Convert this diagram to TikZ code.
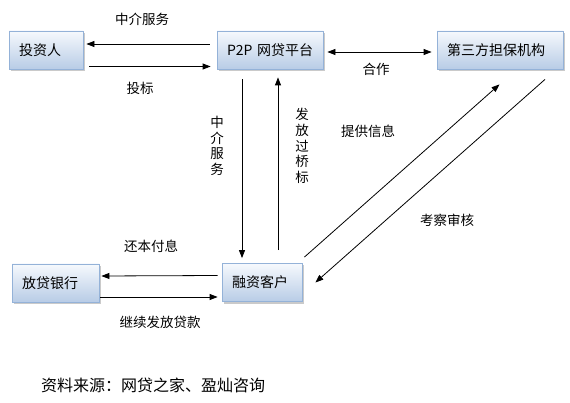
\documentclass[tikz,border=0pt]{standalone}
\usepackage{fontspec}
\setmainfont{Noto Sans CJK SC}
\usetikzlibrary{arrows.meta,shadows}
\definecolor{boxtop}{HTML}{F6F9FD}
\definecolor{boxbot}{HTML}{B8CCE6}
\definecolor{boxline}{HTML}{94B2D8}
\tikzset{
  x=1pt,y=-1pt,
  box/.style={rectangle, draw=boxline, line width=0.8pt, top color=boxtop, bottom color=boxbot,
    drop shadow={shadow xshift=2pt, shadow yshift=-2pt, opacity=0.35, fill=black!60},
    minimum height=38pt, inner xsep=10pt, inner ysep=0pt, align=left,
    font=\fontsize{14}{16}\selectfont},
  arr/.style={line width=0.8pt, -{Triangle[length=8pt,width=6pt]}},
  darr/.style={line width=0.8pt, {Triangle[length=8pt,width=6pt]}-{Triangle[length=8pt,width=6pt]}},
  lab/.style={inner sep=0pt, font=\fontsize{13.5}{15.5}\selectfont},
  vlab/.style={inner sep=0pt, align=center, font=\fontsize{13.5}{15.6}\selectfont},
}
\begin{document}
\begin{tikzpicture}
\useasboundingbox (0,0) rectangle (570,403);
% boxes
\node[box, text width=54pt]  (inv)  at (46,50)    {\mbox{投资人}};
\node[box, text width=86pt]  (p2p)  at (270,50)   {\mbox{P2P 网贷平台}};
\node[box, text width=106pt] (guar) at (500,50)   {\mbox{第三方担保机构}};
\node[box, text width=67pt]  (bank) at (55.5,283) {\mbox{放贷银行}};
\node[box, text width=60pt]  (cust) at (262,282.5){\mbox{融资客户}};
% investor <-> platform
\draw[arr] ([xshift=-7pt,yshift=6pt]p2p.west) -- ([xshift=3pt,yshift=6pt]inv.east);
\draw[arr] ([xshift=6pt,yshift=-16.5pt]inv.east) -- ([xshift=-6pt,yshift=-16.5pt]p2p.west);
% platform <-> guarantor
\draw[darr] ([xshift=4pt,yshift=-2pt]p2p.east) -- ([xshift=-5pt,yshift=-2pt]guar.west);
% platform <-> customer
\draw[arr] ([shift={(-28pt,-10pt)}]p2p.south) -- ([shift={(-20pt,5pt)}]cust.north);
\draw[arr] ([shift={(16pt,13pt)}]cust.north) -- ([shift={(8pt,-8pt)}]p2p.south);
% customer <-> guarantor
\draw[arr] ([shift={(2pt,6pt)}]cust.north east) -- ([shift={(-0.5pt,-15pt)}]guar.south);
\draw[arr] ([shift={(45pt,-10pt)}]guar.south) -- ([shift={(13pt,0pt)}]cust.east);
% bank <-> customer
\draw[arr] ([shift={(-4pt,7pt)}]cust.west) -- ([shift={(2pt,7pt)}]bank.east);
\draw[arr] ([shift={(1pt,-14pt)}]bank.east) -- ([shift={(-4pt,-14.5pt)}]cust.west);
% labels
\node[lab] (l1) at (142,19)  {中介服务};
\node[lab] (l2) at (140,88)  {投标};
\node[lab] (l3) at (376,69)  {合作};
\node[vlab] (l4) at (217,146) {中\\介\\服\\务};
\node[vlab] (l5) at (302,146) {发\\放\\过\\桥\\标};
\node[lab] (l6) at (368,131) {提供信息};
\node[lab] (l7) at (447,220) {考察审核};
\node[lab] (l8) at (151,246) {还本付息};
\node[lab] (l9) at (160,322) {继续发放贷款};
\node[lab, font=\fontsize{16}{18}\selectfont] (src) at (153,385) {资料来源：网贷之家、盈灿咨询};
\end{tikzpicture}
\end{document}
